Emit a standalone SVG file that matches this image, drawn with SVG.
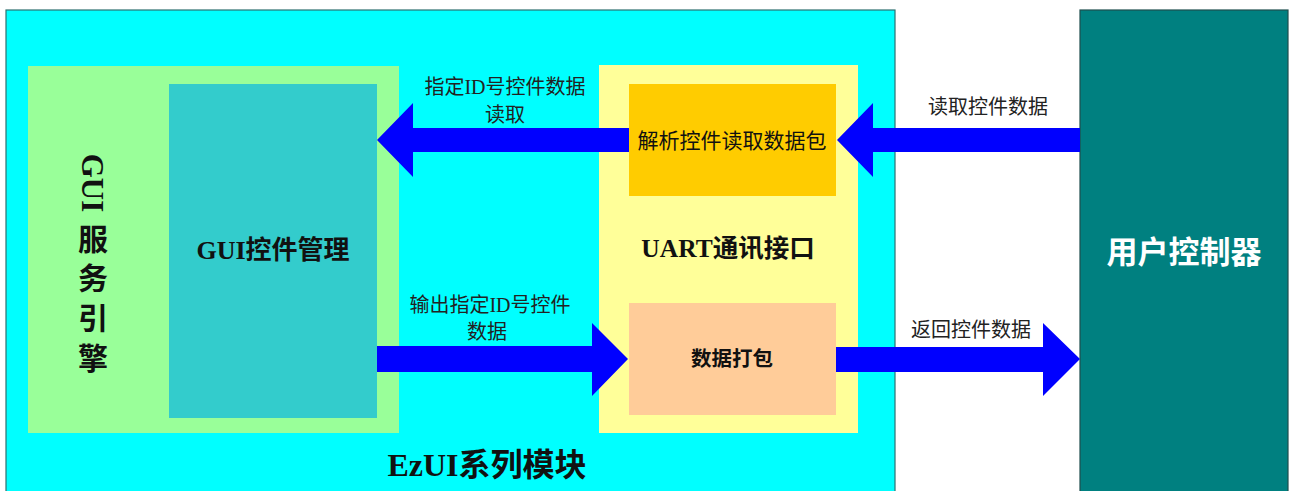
<svg xmlns="http://www.w3.org/2000/svg" width="1290" height="491" viewBox="0 0 1290 491">
<style>
.t{font-family:"Liberation Serif","Noto Sans CJK SC",serif;fill:#111;}
.h{font-weight:bold;}
.c{font-family:"Liberation Serif","Noto Sans CJK SC",serif;fill:#222;font-size:20px;}
.a{fill:#0000FF;}
</style>
<rect width="1290" height="491" fill="#FFFFFF"/>
<g id="ezui">
<rect x="6" y="10" width="889" height="485" fill="#00FFFF" stroke="#2E7070" stroke-width="1.2"/>
<text class="t h" x="487" y="476" font-size="32" text-anchor="middle">EzUI系列模块</text>
</g>
<g id="gui-engine">
<rect x="28" y="66" width="371" height="367" fill="#99FF99"/>
<text class="t h" transform="translate(82,183) rotate(90)" font-size="31" text-anchor="middle">GUI</text>
<text class="t h" x="93" y="250" font-size="30" text-anchor="middle">服</text>
<text class="t h" x="93" y="289" font-size="30" text-anchor="middle">务</text>
<text class="t h" x="93" y="329" font-size="30" text-anchor="middle">引</text>
<text class="t h" x="93" y="369" font-size="30" text-anchor="middle">擎</text>
</g>
<g id="gui-ctrl">
<rect x="169" y="84" width="208" height="334" fill="#33CCCC"/>
<text class="t h" x="273" y="259" font-size="26" text-anchor="middle">GUI控件管理</text>
</g>
<g id="uart">
<rect x="599" y="65" width="259" height="368" fill="#FFFF99"/>
<text class="t h" x="728" y="257" font-size="25.5" text-anchor="middle">UART通讯接口</text>
</g>
<g id="parse">
<rect x="629" y="84" width="207" height="112" fill="#FFCC00"/>
<text class="t" x="732" y="148" font-size="21" text-anchor="middle">解析控件读取数据包</text>
</g>
<g id="pack">
<rect x="629" y="303" width="207" height="112" fill="#FFCC99"/>
<text class="t h" x="732" y="366" font-size="20.5" text-anchor="middle">数据打包</text>
</g>
<g id="user">
<rect x="1080" y="10" width="208" height="485" fill="#008080" stroke="#1E4E4E" stroke-width="1.2"/>
<text x="1184" y="263" font-family="'Noto Sans CJK SC',sans-serif" font-weight="bold" font-size="31" fill="#FFFFFF" text-anchor="middle">用户控制器</text>
</g>
<g id="connectors">
<polygon class="a" points="629,128 413,128 413,103 377,140 413,177 413,152 629,152"/>
<polygon class="a" points="1080,128 873,128 873,103 837,140 873,177 873,152 1080,152"/>
<polygon class="a" points="377,346 592,346 592,323 628,359 592,396 592,372 377,372"/>
<polygon class="a" points="836,347 1043,347 1043,323 1080,359 1043,396 1043,372 836,372"/>
<text class="c" x="505" y="94" text-anchor="middle">指定ID号控件数据</text>
<text class="c" x="505" y="122" text-anchor="middle">读取</text>
<text class="c" x="490" y="312" text-anchor="middle">输出指定ID号控件</text>
<text class="c" x="487" y="339" text-anchor="middle">数据</text>
<text class="c" x="988" y="114" text-anchor="middle">读取控件数据</text>
<text class="c" x="971" y="337" text-anchor="middle">返回控件数据</text>
</g>
</svg>
